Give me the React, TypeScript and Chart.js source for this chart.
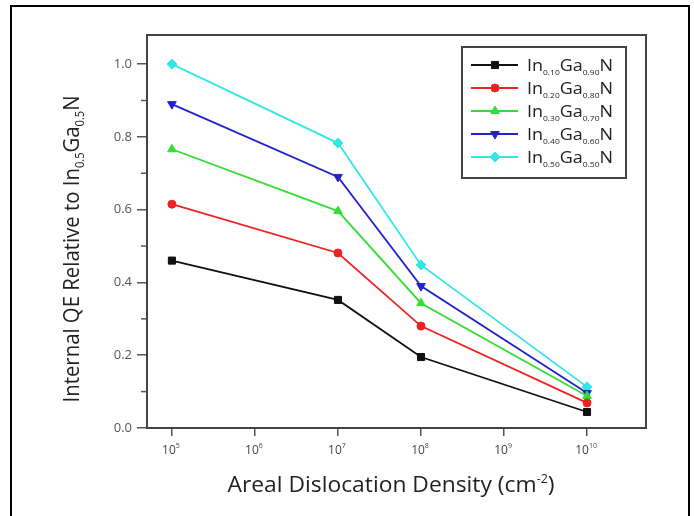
import React, { useEffect, useRef } from 'react';
import { Chart, registerables } from 'chart.js';
import { drawPoint } from 'chart.js/helpers';

Chart.register(...registerables);

const FONT = '"Open Sans", "Noto Sans", sans-serif';

// Areal dislocation density (cm^-2)
const densities = [1e5, 1e7, 1e8, 1e10];
// Internal QE relative to In0.5Ga0.5N
const in010 = [0.46, 0.352, 0.195, 0.044];
const in020 = [0.615, 0.481, 0.28, 0.069];
const in030 = [0.766, 0.596, 0.343, 0.088];
const in040 = [0.89, 0.69, 0.39, 0.096];
const in050 = [1.0, 0.783, 0.448, 0.113];

const seriesValues = [in010, in020, in030, in040, in050];
const seriesInFraction = ['0.10', '0.20', '0.30', '0.40', '0.50'];
const seriesGaFraction = ['0.90', '0.80', '0.70', '0.60', '0.50'];
const seriesColors = ['#111111', '#ee2222', '#33dd33', '#2222cc', '#33e6e6'];
const seriesMarkers = ['rect', 'circle', 'triangle', 'triangle', 'rectRot'];
const seriesRotation = [0, 0, 0, 180, 0];
const seriesRadius = [5, 4, 5, 5, 5];

const xTickValues = [1e5, 1e6, 1e7, 1e8, 1e9, 1e10];
const xTickExponents = ['5', '6', '7', '8', '9', '10'];
const yTickValues = [0, 0.2, 0.4, 0.6, 0.8, 1.0];
const yMinorValues = [0.1, 0.3, 0.5, 0.7, 0.9];

type Part = { t: string; size: number; dy: number };

function richWidth(ctx: CanvasRenderingContext2D, parts: Part[]) {
  let w = 0;
  for (const p of parts) {
    ctx.font = `${p.size}px ${FONT}`;
    w += ctx.measureText(p.t).width;
  }
  return w;
}

function drawRich(
  ctx: CanvasRenderingContext2D,
  parts: Part[],
  x: number,
  y: number,
  align: 'left' | 'center',
  targetWidth?: number
) {
  const w = richWidth(ctx, parts);
  const sx = targetWidth ? targetWidth / w : 1;
  ctx.save();
  ctx.translate(x, y);
  ctx.scale(sx, 1);
  ctx.textAlign = 'left';
  ctx.textBaseline = 'alphabetic';
  let cx = align === 'center' ? -w / 2 : 0;
  for (const p of parts) {
    ctx.font = `${p.size}px ${FONT}`;
    ctx.fillText(p.t, cx, p.dy);
    cx += ctx.measureText(p.t).width;
  }
  ctx.restore();
}

const decorPlugin = {
  id: 'decor',
  afterDraw(chart: any) {
    const ctx: CanvasRenderingContext2D = chart.ctx;
    const { left, right, top, bottom } = chart.chartArea;
    const xs = chart.scales.x;
    const ys = chart.scales.y;
    ctx.save();

    // outer frame
    ctx.strokeStyle = '#000';
    ctx.lineWidth = 2;
    ctx.strokeRect(11, 6, 678, 600);

    // plot box top / right
    ctx.strokeStyle = '#444';
    ctx.lineWidth = 2;
    ctx.beginPath();
    ctx.moveTo(left - 1, top);
    ctx.lineTo(right, top);
    ctx.lineTo(right, bottom + 1);
    ctx.stroke();

    // minor y ticks
    ctx.strokeStyle = '#555';
    ctx.lineWidth = 1.5;
    for (const v of yMinorValues) {
      const py = ys.getPixelForValue(v);
      ctx.beginPath();
      ctx.moveTo(left - 6, py);
      ctx.lineTo(left, py);
      ctx.stroke();
    }

    // x tick labels with superscripts
    ctx.fillStyle = '#444';
    xTickValues.forEach((v, i) => {
      const px = xs.getPixelForValue(v);
      drawRich(
        ctx,
        [
          { t: '10', size: 12, dy: 0 },
          { t: xTickExponents[i], size: 7, dy: -6 },
        ],
        px - 1,
        454,
        'center'
      );
    });

    // axis titles
    ctx.fillStyle = '#222';
    drawRich(
      ctx,
      [
        { t: 'Areal Dislocation Density (cm', size: 22, dy: 0 },
        { t: '-2', size: 12, dy: -9 },
        { t: ')', size: 22, dy: 0 },
      ],
      391,
      492,
      'center',
      327
    );

    ctx.save();
    ctx.translate(79, 249);
    ctx.rotate(-Math.PI / 2);
    drawRich(
      ctx,
      [
        { t: 'Internal QE Relative to In', size: 22, dy: 0 },
        { t: '0.5', size: 12, dy: 5 },
        { t: 'Ga', size: 22, dy: 0 },
        { t: '0.5', size: 12, dy: 5 },
        { t: 'N', size: 22, dy: 0 },
      ],
      0,
      0,
      'center',
      307
    );
    ctx.restore();

    // legend
    const lx = 462, ly = 47, lw = 164, lh = 131;
    ctx.fillStyle = '#fff';
    ctx.fillRect(lx, ly, lw, lh);
    ctx.strokeStyle = '#444';
    ctx.lineWidth = 2;
    ctx.strokeRect(lx, ly, lw, lh);
    seriesColors.forEach((c, i) => {
      const ry = 65 + i * 23;
      ctx.strokeStyle = c;
      ctx.lineWidth = 2;
      ctx.beginPath();
      ctx.moveTo(471, ry);
      ctx.lineTo(518, ry);
      ctx.stroke();
      ctx.fillStyle = c;
      ctx.strokeStyle = c;
      ctx.lineWidth = 1;
      drawPoint(ctx, { pointStyle: seriesMarkers[i] as any, radius: seriesRadius[i], rotation: seriesRotation[i], borderWidth: 1 }, 495, ry);
      ctx.fillStyle = '#222';
      drawRich(
        ctx,
        [
          { t: 'In', size: 17, dy: 0 },
          { t: seriesInFraction[i], size: 8, dy: 4 },
          { t: 'Ga', size: 17, dy: 0 },
          { t: seriesGaFraction[i], size: 8, dy: 4 },
          { t: 'N', size: 17, dy: 0 },
        ],
        527,
        ry + 6,
        'left',
        86
      );
    });

    ctx.restore();
  },
};

export default function App() {
  const ref = useRef<HTMLCanvasElement | null>(null);
  useEffect(() => {
    if (!ref.current) return;
    const datasets = seriesValues.map((vals, i) => ({
      label: `In${seriesInFraction[i]}Ga${seriesGaFraction[i]}N`,
      data: densities.map((x, j) => ({ x, y: vals[j] })),
      borderColor: seriesColors[i],
      backgroundColor: seriesColors[i],
      pointBackgroundColor: seriesColors[i],
      pointBorderColor: seriesColors[i],
      borderWidth: 1.8,
      pointStyle: seriesMarkers[i],
      pointRotation: seriesRotation[i],
      pointRadius: seriesRadius[i],
      pointBorderWidth: 1,
      tension: 0,
    }));
    const chart = new Chart(ref.current, {
      type: 'line',
      data: { datasets },
      options: {
        animation: false,
        responsive: false,
        devicePixelRatio: 1,
        layout: { padding: { top: 35, right: 48, left: 0, bottom: 0 } },
        plugins: { legend: { display: false }, tooltip: { enabled: false } },
        scales: {
          x: {
            type: 'logarithmic',
            min: Math.pow(10, 4.7),
            max: Math.pow(10, 10.71),
            afterBuildTicks: (s: any) => {
              s.ticks = xTickValues.map((v) => ({ value: v }));
            },
            afterFit: (s: any) => {
              s.height = 88;
            },
            ticks: { display: false },
            grid: { drawOnChartArea: false, drawTicks: true, tickLength: 8, color: '#555', lineWidth: 1.5 },
            border: { color: '#444', width: 2 },
          },
          y: {
            min: 0,
            max: 1.08,
            afterBuildTicks: (s: any) => {
              s.ticks = yTickValues.map((v) => ({ value: v }));
            },
            afterFit: (s: any) => {
              s.width = 147;
            },
            ticks: {
              font: { size: 13, family: FONT },
              color: '#555',
              padding: 5,
              callback: (v: any) => Number(v).toFixed(1),
            },
            grid: { drawOnChartArea: false, tickLength: 10, color: '#555', lineWidth: 1.5 },
            border: { color: '#444', width: 2 },
          },
        },
      } as any,
      plugins: [decorPlugin],
    });
    return () => chart.destroy();
  }, []);
  return (
    <div style={{ position: 'absolute', left: 0, top: 0, width: 694, height: 516, background: '#fff' }}>
      <canvas ref={ref} width={694} height={516} style={{ width: 694, height: 516 }} />
    </div>
  );
}
